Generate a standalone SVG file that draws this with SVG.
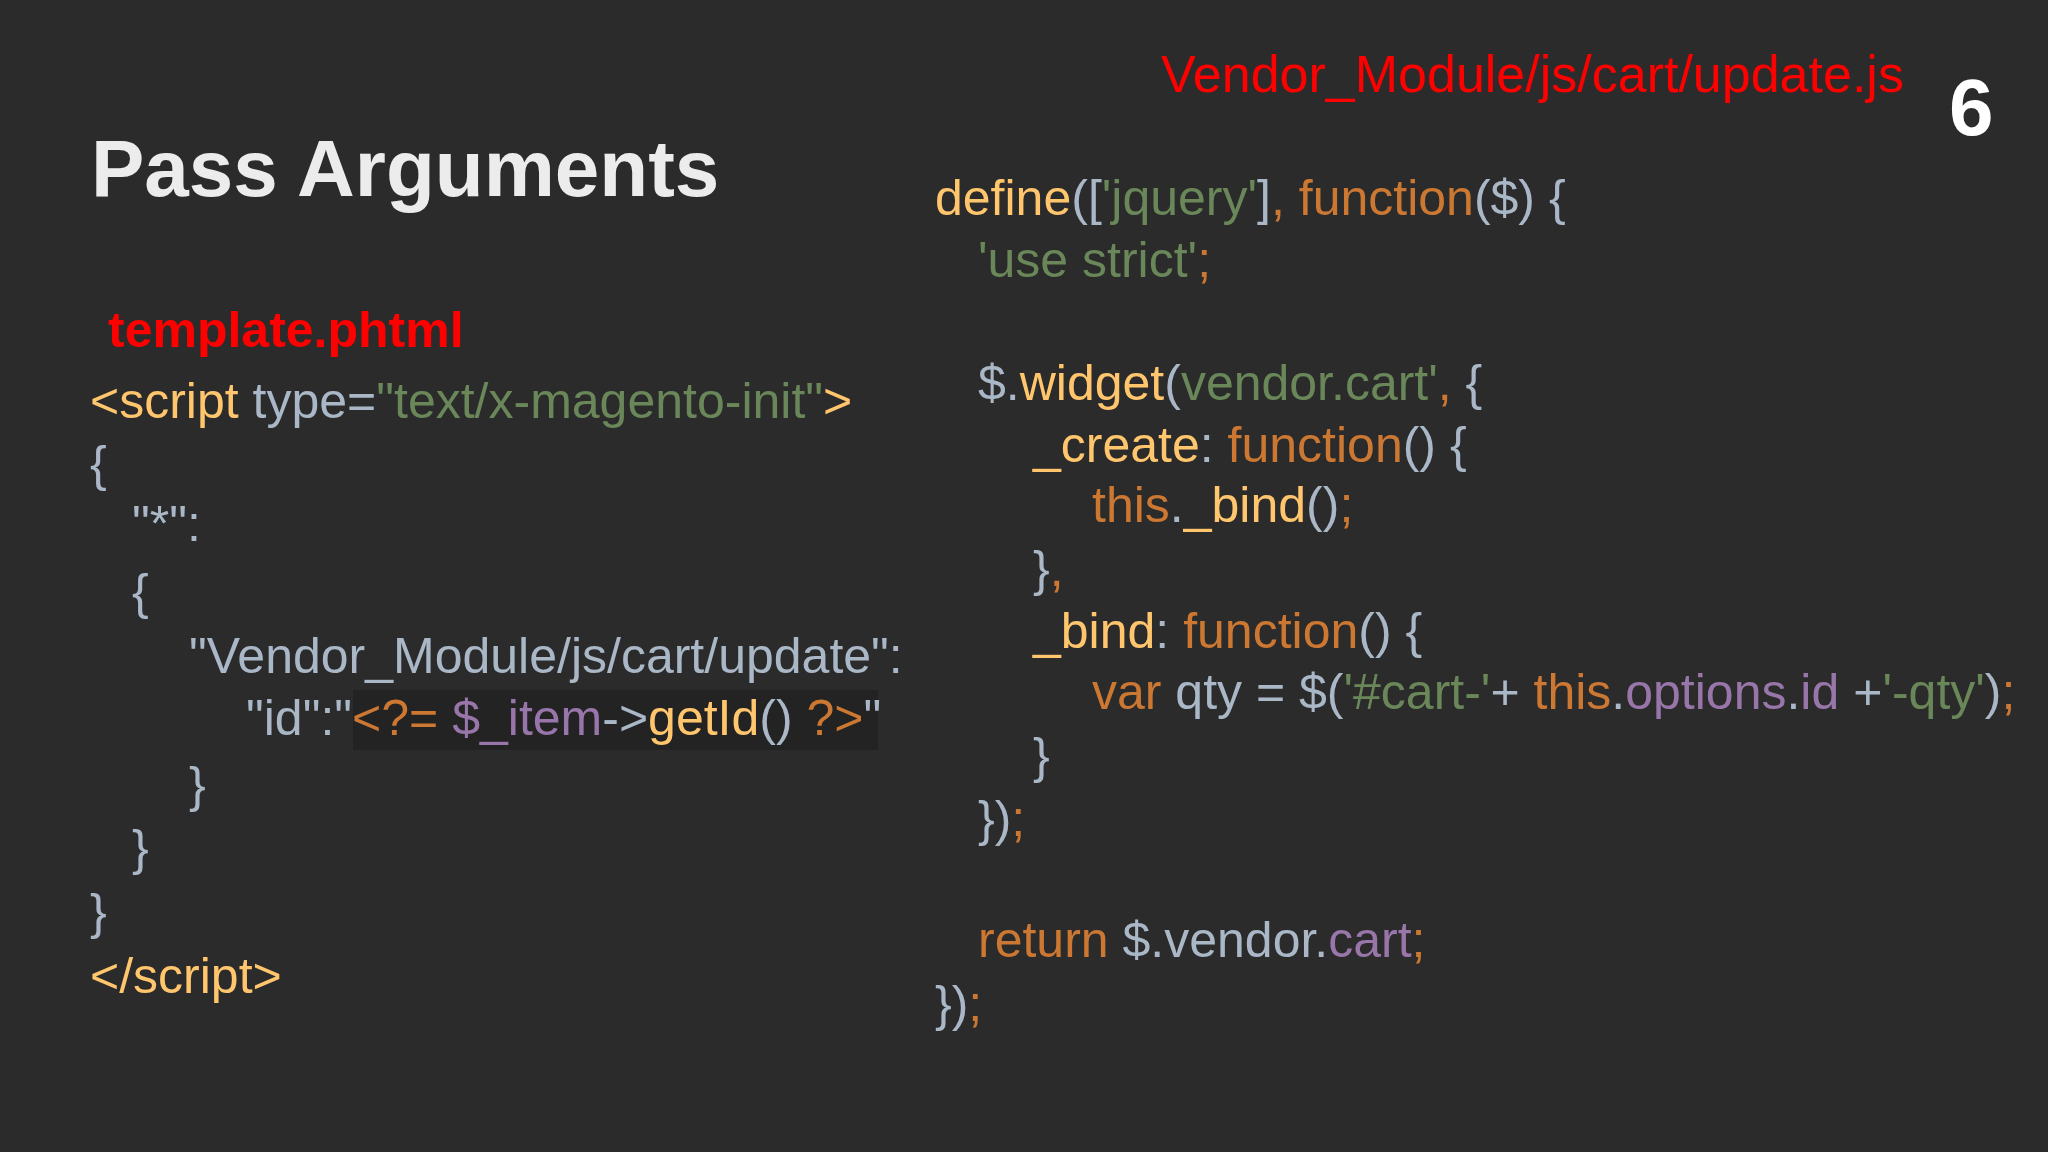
<svg xmlns="http://www.w3.org/2000/svg" width="2048" height="1152" viewBox="0 0 2048 1152">
<style>
text{font-family:"Liberation Sans",Arial,sans-serif}
.c{font-size:50px;fill:#a9b7c6}
.y{fill:#ffc66d}.o{fill:#cc7832}.g{fill:#6a8759}.p{fill:#9876aa}.w{fill:#a9b7c6}
</style>
<rect width="2048" height="1152" fill="#2b2b2b"/>
<g id="title"><text x="91" y="196" font-size="80" font-weight="bold" fill="#ececec">Pass Arguments</text></g>
<g id="page"><text x="1949" y="135" font-size="80" font-weight="bold" fill="#ffffff">6</text></g>
<g id="jsfile"><text x="1161" y="92" font-size="52" fill="#ff0000">Vendor_Module/js/cart/update.js</text></g>
<g id="tplfile"><text x="108" y="347" font-size="50" font-weight="bold" fill="#ff0000">template.phtml</text></g>
<g id="left">
<rect x="353" y="690" width="525" height="60" fill="#232323"/>
<text class="c" x="90" y="418"><tspan class="y">&lt;script </tspan><tspan class="w">type=</tspan><tspan class="g">"text/x-magento-init"</tspan><tspan class="y">&gt;</tspan></text>
<text class="c" x="90" y="481">{</text>
<text class="c" x="132" y="541">"*":</text>
<text class="c" x="132" y="609">{</text>
<text class="c" x="189" y="673">"Vendor_Module/js/cart/update":</text>
<text class="c" x="246" y="735">"id":"<tspan class="o">&lt;?= </tspan><tspan class="p">$_item</tspan>-&gt;<tspan class="y">getId</tspan>() <tspan class="o">?&gt;</tspan>"</text>
<text class="c" x="189" y="802">}</text>
<text class="c" x="132" y="865">}</text>
<text class="c" x="90" y="929">}</text>
<text class="c y" x="90" y="993">&lt;/script&gt;</text>
</g>
<g id="right">
<text class="c" x="935" y="215"><tspan class="y">define</tspan>([<tspan class="g">'jquery'</tspan>]<tspan class="o">, function</tspan>($) {</text>
<text class="c" x="978" y="277"><tspan class="g">'use strict'</tspan><tspan class="o">;</tspan></text>
<text class="c" x="978" y="400">$.<tspan class="y">widget</tspan>(<tspan class="g">vendor.cart'</tspan><tspan class="o">,</tspan> {</text>
<text class="c" x="1033" y="462"><tspan class="y">_create</tspan>: <tspan class="o">function</tspan>() {</text>
<text class="c" x="1092" y="522"><tspan class="o">this</tspan>.<tspan class="y">_bind</tspan>()<tspan class="o">;</tspan></text>
<text class="c" x="1033" y="586">}<tspan class="o">,</tspan></text>
<text class="c" x="1033" y="648"><tspan class="y">_bind</tspan>: <tspan class="o">function</tspan>() {</text>
<text class="c" x="1092" y="709"><tspan class="o">var </tspan>qty = $(<tspan class="g">'#cart-'</tspan>+ <tspan class="o">this</tspan>.<tspan class="p">options</tspan>.<tspan class="p">id</tspan> +<tspan class="g">'-qty'</tspan>)<tspan class="o">;</tspan></text>
<text class="c" x="1033" y="773">}</text>
<text class="c" x="978" y="836">})<tspan class="o">;</tspan></text>
<text class="c" x="978" y="957"><tspan class="o">return </tspan>$.vendor.<tspan class="p">cart</tspan><tspan class="o">;</tspan></text>
<text class="c" x="935" y="1021">})<tspan class="o">;</tspan></text>
</g>
</svg>
